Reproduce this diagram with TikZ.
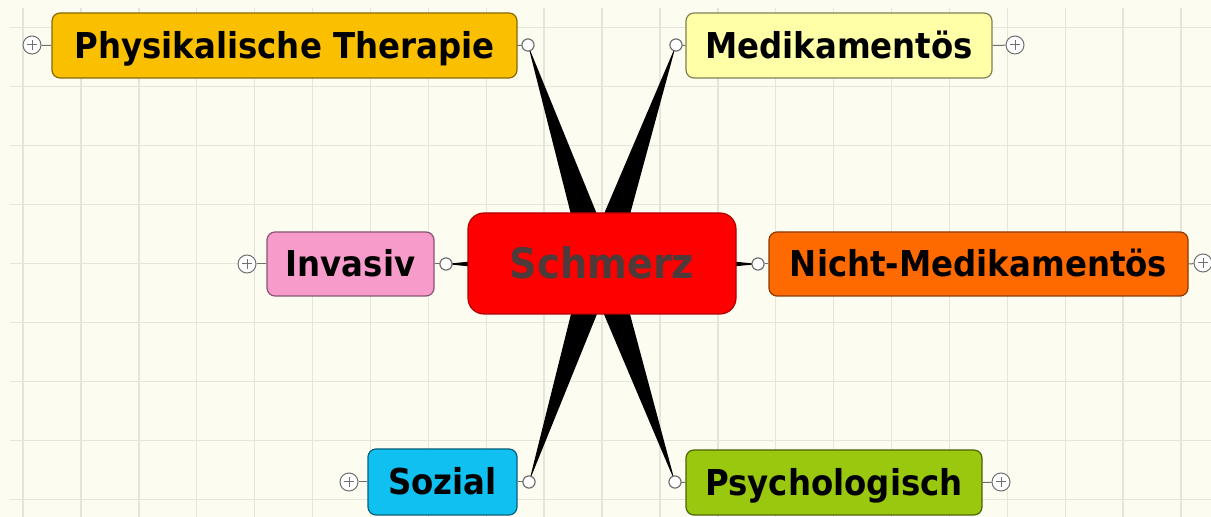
\documentclass[tikz,border=0pt]{standalone}
\usepackage{fontspec}
\setmainfont{DejaVu Sans}[FakeStretch=0.91]
\usetikzlibrary{calc}
\definecolor{bgc}{HTML}{FCFCF1}
\definecolor{gridc}{HTML}{E5E5DA}
\definecolor{cPhys}{HTML}{FAC000}
\definecolor{cMedi}{HTML}{FFFFA8}
\definecolor{cInv}{HTML}{F79BCB}
\definecolor{cSchm}{HTML}{FF0000}
\definecolor{cNicht}{HTML}{FF6A00}
\definecolor{cSoz}{HTML}{10C0F0}
\definecolor{cPsych}{HTML}{9AC80E}
\definecolor{schmtext}{HTML}{4D3A3A}
\definecolor{knobc}{HTML}{707070}
\tikzset{
  gridline/.style={draw=gridc, line width=0.7pt},
  topic/.style={rectangle, rounded corners=4pt, line width=0.6pt, inner sep=0pt,
    minimum height=32.5pt, text height=13pt, text depth=0pt,
    font=\bfseries\fontsize{17.8}{20}\selectfont, text=black},
  central/.style={rectangle, rounded corners=8pt, line width=0.6pt, inner sep=0pt,
    fill=cSchm, draw=cSchm!70!black, minimum width=134pt, minimum height=50.5pt,
    text height=15.5pt, text depth=0pt,
    font=\bfseries\fontsize{21}{25}\selectfont, text=schmtext},
  joint/.style={circle, draw=knobc, fill=white, line width=0.5pt, minimum size=6pt, inner sep=0pt},
  plusbtn/.style={circle, draw=knobc, fill=white, line width=0.5pt, minimum size=9pt, inner sep=0pt,
    path picture={\draw[knobc, line width=0.5pt]
      ([xshift=-2.6pt]path picture bounding box.center) -- ([xshift=2.6pt]path picture bounding box.center)
      ([yshift=-2.6pt]path picture bounding box.center) -- ([yshift=2.6pt]path picture bounding box.center);}},
  stub/.style={draw=knobc, line width=0.5pt},
  wedge/.style={fill=black}
}
\begin{document}
\begin{tikzpicture}[x=0.5pt,y=-0.5pt]
\useasboundingbox (0,0) rectangle (1211,517);
\fill[bgc] (0,0) rectangle (1211,517);
% grid
\foreach \k in {0,...,20} \draw[gridline] ({23+57.9*\k},8) -- ({23+57.9*\k},517);
\foreach \k in {0,...,8} \draw[gridline] (10,{27.5+59*\k}) -- (1211,{27.5+59*\k});

% central anchor and joints
\coordinate (sc) at (600,264);
\node[joint] (physJ) at (528,45) {};
\node[joint] (mediJ) at (676,45) {};
\node[joint] (invJ) at (446,264) {};
\node[joint] (nichtJ) at (758,264) {};
\node[joint] (sozJ) at (529,482) {};
\node[joint] (psychJ) at (675,482) {};

% tapered connectors
\foreach \t in {physJ,mediJ,invJ,nichtJ,sozJ,psychJ}
  \fill[wedge] (\t.center) -- ($(sc)!8pt!90:(\t.center)$) -- ($(sc)!8pt!-90:(\t.center)$) -- cycle;

% central topic
\node[central] (schm) at (602,263.5) {Schmerz};

% topics
\node[topic, fill=cPhys, draw=cPhys!55!black, minimum width=232.5pt] (phys) at (284.5,45.5) {Physikalische Therapie};
\node[topic, fill=cMedi, draw=cMedi!50!black, minimum width=153pt] (medi) at (839,45.5) {Medikamentös};
\node[topic, fill=cInv, draw=cInv!55!black, minimum width=83.5pt, minimum height=32pt] (inv) at (350.5,264) {Invasiv};
\node[topic, fill=cNicht, draw=cNicht!55!black, minimum width=209.5pt, minimum height=32pt] (nicht) at (978.5,264) {Nicht-Medikamentös};
\node[topic, fill=cSoz, draw=cSoz!50!black, minimum width=74.5pt, minimum height=33pt] (soz) at (442.5,482) {Sozial};
\node[topic, fill=cPsych, draw=cPsych!50!black, minimum width=148pt, minimum height=32.5pt] (psych) at (834,482.5) {Psychologisch};

% redraw joints on top with stubs
\foreach \j/\b/\a in {physJ/phys/east, mediJ/medi/west, invJ/inv/east, nichtJ/nicht/west, sozJ/soz/east, psychJ/psych/west}
  \draw[stub] (\j) -- (\b.\a);
\node[joint] at (physJ) {};
\node[joint] at (mediJ) {};
\node[joint] at (invJ) {};
\node[joint] at (nichtJ) {};
\node[joint] at (sozJ) {};
\node[joint] at (psychJ) {};

% expand buttons
\node[plusbtn] (physP) at (32,45) {};
\node[plusbtn] (mediP) at (1015,45) {};
\node[plusbtn] (invP) at (247,264) {};
\node[plusbtn] (nichtP) at (1203,263) {};
\node[plusbtn] (sozP) at (349,482) {};
\node[plusbtn] (psychP) at (1001,482) {};
\draw[stub] (physP) -- (phys.west);
\draw[stub] (mediP) -- (medi.east);
\draw[stub] (invP) -- (inv.west);
\draw[stub] (nichtP) -- (nicht.east);
\draw[stub] (sozP) -- (soz.west);
\draw[stub] (psychP) -- (psych.east);
\end{tikzpicture}
\end{document}
